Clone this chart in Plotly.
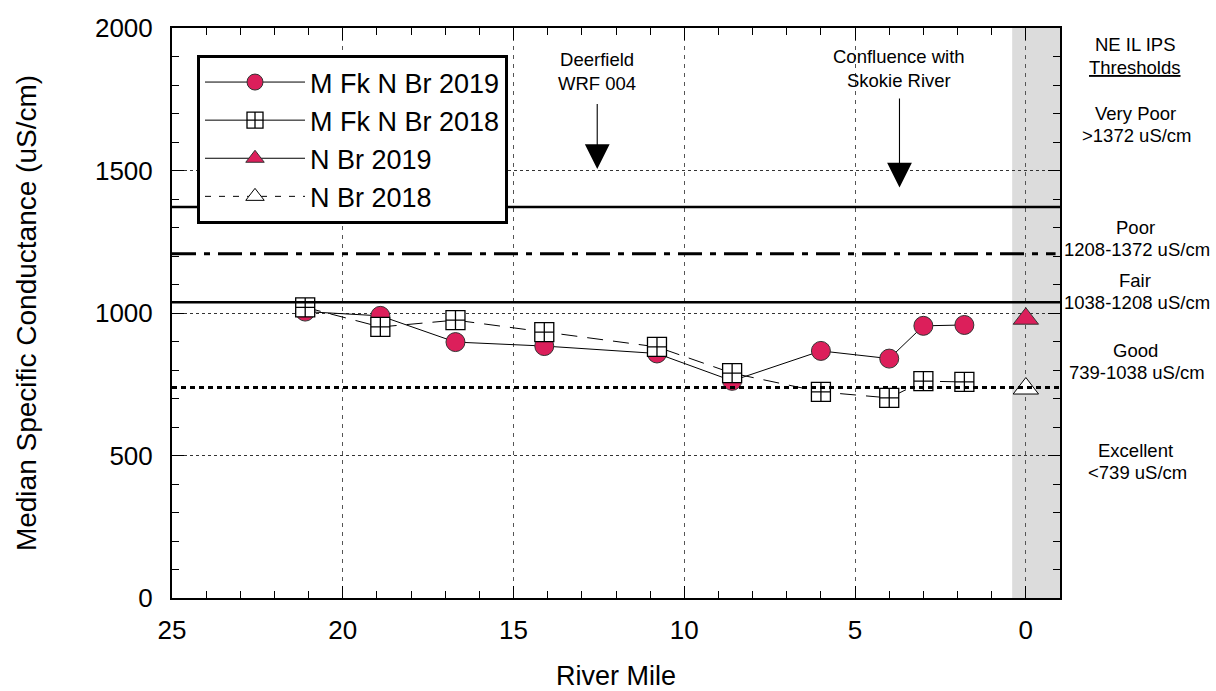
import plotly.graph_objects as go

# River miles and median specific conductance (uS/cm)
mfk_miles = [21.1, 18.9, 16.7, 14.1, 10.8, 8.6, 6.0, 4.0, 3.0, 1.8]
mfk_2019 = [1005, 990, 898, 884, 858, 762, 867, 840, 955, 958]
mfk_2018 = [1020, 951, 975, 933, 881, 789, 723, 702, 761, 758]

nbr_miles = [0.0]
nbr_2019 = [980]
nbr_2018 = [735]

# NE IL IPS threshold boundaries (uS/cm)
thr_very_poor = 1372
thr_poor = 1208
thr_fair = 1038
thr_good = 739

threshold_labels = [
    ("Very Poor", ">1372 uS/cm", 113),
    ("Poor", "1208-1372 uS/cm", 227),
    ("Fair", "1038-1208 uS/cm", 280),
    ("Good", "739-1038 uS/cm", 350),
    ("Excellent", "<739 uS/cm", 450),
]

RED = "#DC1F5B"
FONT = "Arial, Liberation Sans, sans-serif"
ANN_SIZE = 18.5

W, H = 1216, 691
ML, MR, MT, MB = 172, 156, 28, 93
PW, PH = W - ML - MR, H - MT - MB


def px_x(px):
    return (px - ML) / PW


def px_y(py):
    return (H - MB - py) / PH


fig = go.Figure()

fig.add_trace(go.Scatter(
    x=mfk_miles, y=mfk_2019, name="M Fk N Br 2019", mode="lines+markers",
    line=dict(color="black", width=1),
    marker=dict(symbol="circle", size=19, color=RED, line=dict(color="#333", width=1)),
))
fig.add_trace(go.Scatter(
    x=mfk_miles, y=mfk_2018, name="M Fk N Br 2018", mode="lines+markers",
    line=dict(color="black", width=1, dash="16px,10px"), showlegend=False,
    marker=dict(symbol="square-cross", size=19, color="white", line=dict(color="black", width=1.3)),
))
# legend entry for the 2018 main-stem series (solid swatch)
fig.add_trace(go.Scatter(
    x=[None], y=[None], name="M Fk N Br 2018", mode="lines+markers",
    line=dict(color="black", width=1),
    marker=dict(symbol="square-cross", size=19, color="white", line=dict(color="black", width=1.3)),
))
fig.add_trace(go.Scatter(
    x=nbr_miles, y=nbr_2019, name="N Br 2019", mode="lines+markers",
    line=dict(color="black", width=1),
    marker=dict(symbol="triangle-up", size=22, color=RED, line=dict(color="#333", width=1)),
))
fig.add_trace(go.Scatter(
    x=nbr_miles, y=nbr_2018, name="N Br 2018", mode="lines+markers",
    line=dict(color="black", width=1, dash="6px,8px"),
    marker=dict(symbol="triangle-up", size=22, color="white", line=dict(color="black", width=1)),
))

shapes = [
    dict(type="rect", xref="x", yref="paper", x0=0.4, x1=-1, y0=0, y1=1,
         fillcolor="#DCDCDC", line=dict(width=0), layer="below"),
    dict(type="line", xref="paper", yref="y", x0=0, x1=1, y0=thr_very_poor, y1=thr_very_poor,
         line=dict(color="black", width=2.5)),
    dict(type="line", xref="paper", yref="y", x0=0, x1=0.995, y0=thr_poor, y1=thr_poor,
         line=dict(color="black", width=3, dash="24px,8px,6px,8px")),
    dict(type="line", xref="paper", yref="y", x0=0, x1=1, y0=thr_fair, y1=thr_fair,
         line=dict(color="black", width=2.5)),
    dict(type="line", xref="paper", yref="y", x0=0, x1=1, y0=thr_good, y1=thr_good,
         line=dict(color="black", width=3, dash="5px,4px")),
]

annotations = [
    dict(x=12.55, y=1505, xref="x", yref="y", text="Deerfield<br>WRF 004", showarrow=True,
         ax=0, ay=-73, arrowhead=2, arrowsize=4.5, arrowwidth=1.1, arrowcolor="black",
         startstandoff=8,
         font=dict(family=FONT, size=ANN_SIZE, color="black"), yanchor="bottom"),
    dict(x=3.7, y=1440, xref="x", yref="y", text="Confluence with<br>Skokie River", showarrow=True,
         ax=0, ay=-95, arrowhead=2, arrowsize=4.5, arrowwidth=1.1, arrowcolor="black",
         startstandoff=6,
         font=dict(family=FONT, size=ANN_SIZE, color="black"), yanchor="bottom"),
    dict(x=px_x(1135), y=px_y(45), xref="paper", yref="paper", showarrow=False,
         xanchor="center", yanchor="middle",
         text="NE IL IPS", font=dict(family=FONT, size=ANN_SIZE, color="black")),
    dict(x=px_x(1135), y=px_y(67), xref="paper", yref="paper", showarrow=False,
         xanchor="center", yanchor="middle",
         text="<u>Thresholds</u>", font=dict(family=FONT, size=ANN_SIZE, color="black")),
    # x-axis title, placed below the tick labels
    dict(x=0.5, y=px_y(676), xref="paper", yref="paper", showarrow=False,
         xanchor="center", yanchor="middle",
         text="River Mile", font=dict(family=FONT, size=27, color="black")),
]
for cls, rng, ypx in threshold_labels:
    annotations.append(dict(x=px_x(1135), y=px_y(ypx), xref="paper", yref="paper", showarrow=False,
                            xanchor="center", yanchor="middle",
                            text=cls, font=dict(family=FONT, size=ANN_SIZE, color="black")))
    annotations.append(dict(x=px_x(1137), y=px_y(ypx + 22), xref="paper", yref="paper", showarrow=False,
                            xanchor="center", yanchor="middle",
                            text=rng, font=dict(family=FONT, size=ANN_SIZE, color="black")))

fig.update_layout(
    width=W, height=H,
    margin=dict(l=ML, r=MR, t=MT, b=MB, autoexpand=False),
    paper_bgcolor="white", plot_bgcolor="white",
    font=dict(family=FONT, color="black"),
    shapes=shapes, annotations=annotations,
    showlegend=True,
    legend=dict(x=px_x(197), y=px_y(55), xanchor="left", yanchor="top",
                bgcolor="white", bordercolor="black", borderwidth=3,
                font=dict(family=FONT, size=27, color="black"),
                itemwidth=100, tracegroupgap=0),
)

fig.update_xaxes(
    range=[25, -1], autorange=False, automargin=False,
    tickvals=[25, 20, 15, 10, 5, 0], ticktext=["25", "20", "15", "10", "5", "0"],
    ticks="inside", ticklen=12, tickwidth=1.2, tickcolor="black",
    minor=dict(dtick=1, ticks="inside", ticklen=7, tickcolor="black", showgrid=False),
    showgrid=True, gridcolor="#555", gridwidth=1, griddash="4px,5px",
    showline=True, linecolor="black", linewidth=2, mirror="ticks",
    zeroline=False, tickfont=dict(family=FONT, size=26),
    ticklabelstandoff=8,
)
fig.update_yaxes(
    range=[0, 2000], autorange=False, automargin=False,
    tickvals=[0, 500, 1000, 1500, 2000],
    ticks="inside", ticklen=12, tickwidth=1.2, tickcolor="black",
    minor=dict(dtick=100, ticks="inside", ticklen=7, tickcolor="black", showgrid=False),
    showgrid=True, gridcolor="#333", gridwidth=1, griddash="3px,3px",
    showline=True, linecolor="black", linewidth=2, mirror="ticks",
    zeroline=False, tickfont=dict(family=FONT, size=26),
    ticklabelstandoff=12,
    title=dict(text="Median Specific Conductance (uS/cm)", font=dict(family=FONT, size=28), standoff=50),
)

fig.write_html("out.html")
